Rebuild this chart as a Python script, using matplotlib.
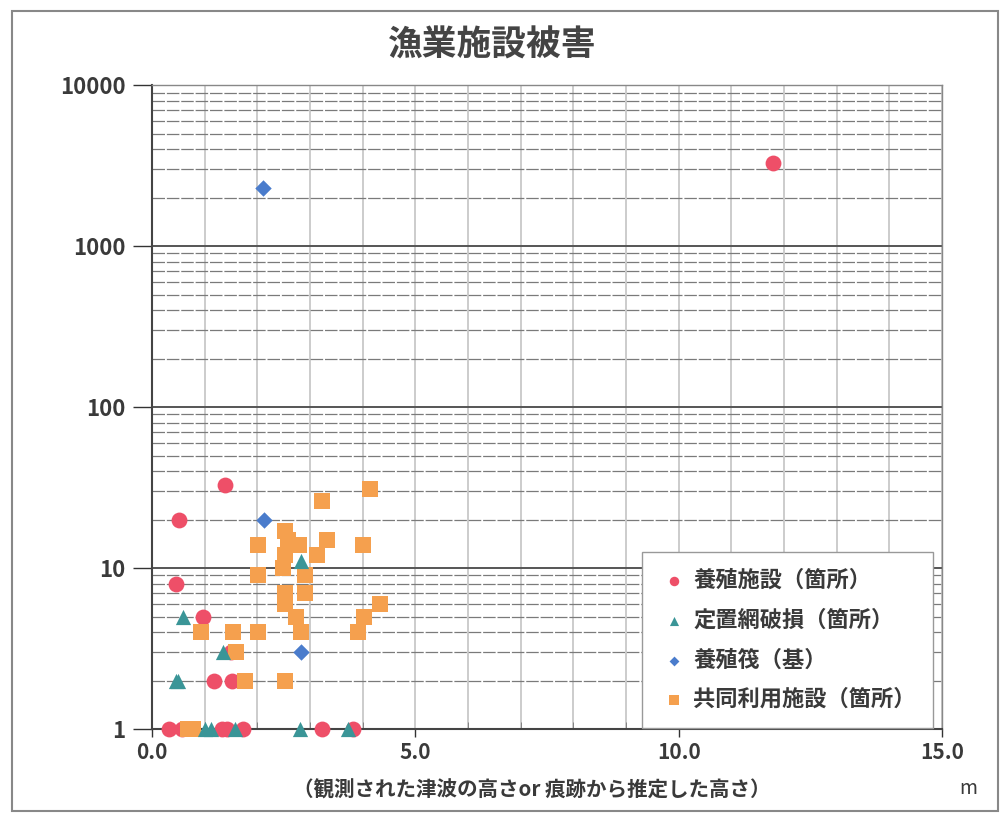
import numpy as np
import matplotlib.pyplot as plt
from matplotlib.ticker import FixedLocator, NullFormatter, LogLocator
from matplotlib.patches import Rectangle

plt.rcParams['font.family'] = ['Noto Sans CJK JP', 'DejaVu Sans']

# 養殖施設(箇所)
red_x = [11.8, 1.39, 0.51, 0.45, 0.96, 1.50, 1.18, 1.52, 0.32, 0.57, 1.33, 1.43, 1.73, 3.23, 3.82]
red_y = [3300, 33, 20, 8, 5, 3, 2, 2, 1, 1, 1, 1, 1, 1, 1]

# 定置網破損(箇所)
tri_x = [0.59, 1.35, 0.45, 0.50, 2.83, 1.00, 1.12, 1.58, 2.81, 3.73]
tri_y = [5, 3, 2, 2, 11, 1, 1, 1, 1, 1]

# 養殖筏(基)
dia_x = [2.11, 2.13, 2.83]
dia_y = [2300, 20, 3]

# 共同利用施設(箇所)
sq_x = [4.13, 3.23, 2.53, 2.59, 2.79, 3.33, 2.02, 4.01, 2.53, 3.14, 2.49, 2.02, 2.91,
        2.53, 2.91, 2.53, 4.33, 2.74, 4.03, 0.93, 1.54, 2.02, 2.83, 3.92, 1.60, 1.77,
        2.53, 0.69, 0.78]
sq_y = [31, 26, 17, 15, 14, 15, 14, 14, 12, 12, 10, 9, 9,
        7, 7, 6, 6, 5, 5, 4, 4, 4, 4, 4, 3, 2,
        2, 1, 1]

labels = ['養殖施設（箇所）', '定置網破損（箇所）', '養殖筏（基）', '共同利用施設（箇所）']
x_ticks = [0, 5, 10, 15]
x_tick_labels = ['0.0', '5.0', '10.0', '15.0']
y_ticks = [1, 10, 100, 1000, 10000]

fig = plt.figure(figsize=(10, 8.15), dpi=100)
ax = fig.add_axes([0.152, 0.1055, 0.79, 0.790])

kw = dict(linewidths=0, clip_on=False)
ax.scatter(red_x, red_y, s=130, marker='o', color='#ee4f68', label=labels[0], zorder=3, **kw)
ax.scatter(tri_x, tri_y, s=120, marker='^', color='#3a9597', label=labels[1], zorder=5, **kw)
ax.scatter(dia_x, dia_y, s=70, marker='D', color='#4a7ccc', label=labels[2], zorder=5, **kw)
ax.scatter(sq_x, sq_y, s=140, marker='s', color='#f5a04e', label=labels[3], zorder=4, **kw)

ax.set_yscale('log')
ax.set_xlim(0, 15)
ax.set_ylim(1, 10000)

ax.xaxis.set_major_locator(FixedLocator(x_ticks))
ax.set_xticklabels(x_tick_labels)
ax.xaxis.set_minor_locator(FixedLocator(np.arange(0, 16, 1)))
ax.yaxis.set_major_locator(FixedLocator(y_ticks))
ax.set_yticklabels([str(v) for v in y_ticks])
ax.yaxis.set_minor_locator(LogLocator(base=10, subs=np.arange(2, 10)))
ax.yaxis.set_minor_formatter(NullFormatter())

ax.grid(which='minor', axis='x', color='#c4c4c4', lw=1.2)
ax.grid(which='major', axis='x', color='#c4c4c4', lw=1.2)
ax.grid(which='minor', axis='y', color='#7a7a7a', lw=0.9, ls=(0, (10, 1.5)))
ax.grid(which='major', axis='y', color='#555555', lw=1.4)
ax.set_axisbelow(True)

ax.tick_params(axis='y', which='major', direction='out', length=14, width=1,
               labelsize=16, pad=5, colors='#333333')
ax.tick_params(axis='y', which='minor', length=0)
ax.tick_params(axis='x', which='major', direction='out', length=6, width=1,
               labelsize=15, pad=3, colors='#333333')
ax.tick_params(axis='x', which='minor', direction='in', length=5, color='#777777')
for lab in ax.get_xticklabels() + ax.get_yticklabels():
    lab.set_fontweight('bold')
    lab.set_color('#3a3a3a')

for side in ['left', 'bottom']:
    ax.spines[side].set_color('#444444')
    ax.spines[side].set_linewidth(1.5)
for side in ['top', 'right']:
    ax.spines[side].set_color('#888888')
    ax.spines[side].set_linewidth(1.0)

fig.text(0.492, 0.945, '漁業施設被害', ha='center', va='center', fontsize=25,
         fontweight='bold', color='#444444')
fig.text(0.532, 0.030, '（観測された津波の高さor 痕跡から推定した高さ）', ha='center',
         va='center', fontsize=14.8, fontweight='bold', color='#3a3a3a')
fig.text(0.968, 0.033, 'm', ha='center', va='center', fontsize=14, color='#3a3a3a')

leg = ax.legend(loc='lower right', bbox_to_anchor=(0.988, 0.002), frameon=True,
                fancybox=False, edgecolor='#999999', framealpha=1, markerscale=0.6,
                handletextpad=0.15, labelspacing=0.75, borderpad=0.75, handlelength=1.4,
                borderaxespad=0.0, prop={'size': 16, 'weight': 'bold'})
for t in leg.get_texts():
    t.set_color('#3a3a3a')

fig.patches.append(Rectangle((0.012, 0.005), 0.986, 0.982, transform=fig.transFigure,
                             fill=False, edgecolor='#888888', lw=1.5))

fig.savefig('out.png', dpi=100)
